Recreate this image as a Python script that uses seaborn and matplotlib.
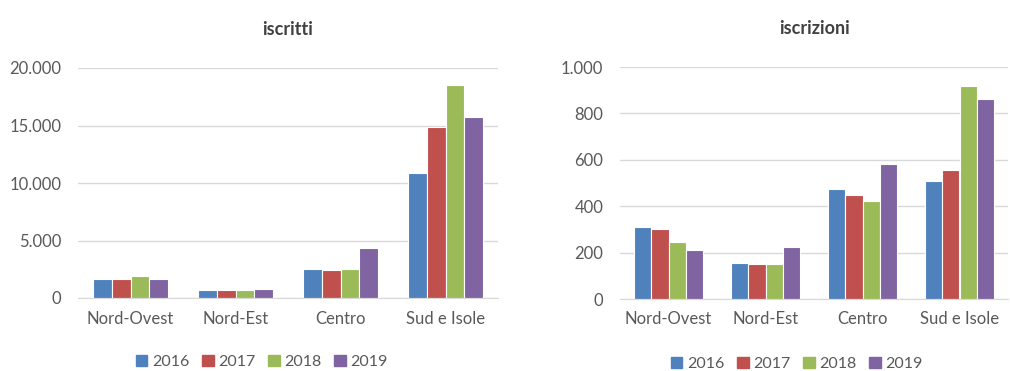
import pandas as pd
import numpy as np
import matplotlib
matplotlib.use('Agg')
import matplotlib.pyplot as plt
from matplotlib.ticker import FuncFormatter, MultipleLocator
import seaborn as sns

# dati
aree = ['Nord-Ovest', 'Nord-Est', 'Centro', 'Sud e Isole']
anni = ['2016', '2017', '2018', '2019']

iscritti_2016 = [1650, 720, 2520, 10870]
iscritti_2017 = [1650, 700, 2430, 14870]
iscritti_2018 = [1900, 700, 2490, 18550]
iscritti_2019 = [1620, 810, 4380, 15770]

iscrizioni_2016 = [312, 155, 474, 509]
iscrizioni_2017 = [302, 151, 448, 557]
iscrizioni_2018 = [247, 151, 424, 918]
iscrizioni_2019 = [210, 224, 583, 862]

colori = ['#4F81BD', '#C0504D', '#9BBB59', '#8064A2']


def long_df(series):
    rows = []
    for anno, vals in zip(anni, series):
        for area, v in zip(aree, vals):
            rows.append({'area': area, 'anno': anno, 'valore': v})
    return pd.DataFrame(rows)


df_iscritti = long_df([iscritti_2016, iscritti_2017, iscritti_2018, iscritti_2019])
df_iscrizioni = long_df([iscrizioni_2016, iscrizioni_2017, iscrizioni_2018, iscrizioni_2019])

sns.set_style('white')
plt.rcParams['font.family'] = ['Lato', 'DejaVu Sans']

fig = plt.figure(figsize=(10.1, 3.71), dpi=100)
ax1 = fig.add_axes([78 / 1010, 1 - 298 / 371, 420 / 1010, 230 / 371])
ax2 = fig.add_axes([620 / 1010, 1 - 299 / 371, 388 / 1010, 232 / 371])

# formato italiano con il punto per le migliaia
fmt = FuncFormatter(lambda x, p: f'{int(x):,}'.replace(',', '.'))

for ax, df, titolo, top, step in [(ax1, df_iscritti, 'iscritti', 20000, 5000),
                                  (ax2, df_iscrizioni, 'iscrizioni', 1000, 200)]:
    sns.barplot(data=df, x='area', y='valore', hue='anno', palette=colori,
                saturation=1, width=0.72, edgecolor='white', linewidth=0.8,
                ax=ax, legend=False)
    ax.set_ylim(0, top)
    ax.yaxis.set_major_locator(MultipleLocator(step))
    ax.yaxis.set_major_formatter(fmt)
    ax.grid(axis='y', color='#D9D9D9', linewidth=1)
    ax.set_axisbelow(True)
    for s in ['top', 'right', 'left']:
        ax.spines[s].set_visible(False)
    ax.spines['bottom'].set_color('#D9D9D9')
    ax.set_xlabel('')
    ax.set_ylabel('')
    ax.tick_params(axis='x', length=0, labelsize=12, colors='#595959', pad=9)
    ax.tick_params(axis='y', length=0, labelsize=12, colors='#595959', pad=12)
    ax.set_title(titolo, fontsize=13, fontweight='bold', color='#404040', pad=24)

# legende in basso
handles = [plt.Rectangle((0, 0), 1, 1, color=c) for c in colori]
fig.legend(handles, anni, loc='center', bbox_to_anchor=(262 / 1010, 1 - 362 / 371),
           ncol=4, frameon=False, fontsize=11.5, handlelength=0.7, handleheight=0.7,
           columnspacing=0.8, handletextpad=0.3, labelcolor='#595959')
fig.legend(handles, anni, loc='center', bbox_to_anchor=(797 / 1010, 1 - 364 / 371),
           ncol=4, frameon=False, fontsize=11.5, handlelength=0.7, handleheight=0.7,
           columnspacing=0.8, handletextpad=0.3, labelcolor='#595959')

fig.savefig('out.png', dpi=100)
